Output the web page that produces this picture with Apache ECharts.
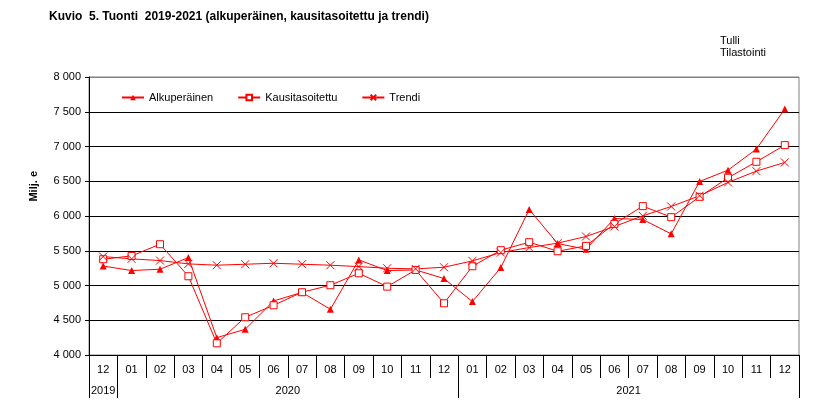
<!DOCTYPE html>
<html>
<head>
<meta charset="utf-8">
<script src="https://cdn.jsdelivr.net/npm/echarts@6/dist/echarts.min.js"></script>
<style>
html,body{margin:0;padding:0;background:#fff;}
#c{width:832px;height:416px;}
</style>
</head>
<body>
<div id="c"></div>
<script>
// ---- data ----
var months = ['12','01','02','03','04','05','06','07','08','09','10','11','12','01','02','03','04','05','06','07','08','09','10','11','12'];
var years  = ['2019','2020','2020','2020','2020','2020','2020','2020','2020','2020','2020','2020','2020','2021','2021','2021','2021','2021','2021','2021','2021','2021','2021','2021','2021'];
var alkuperainen = [5280, 5215, 5234, 5402, 4250, 4370, 4778, 4900, 4658, 5368, 5215, 5224, 5100, 4768, 5258, 6094, 5604, 5522, 5964, 5950, 5743, 6497, 6660, 6963, 7539];
var kausitasoitettu = [5378, 5426, 5594, 5133, 4168, 4543, 4715, 4903, 5004, 5176, 4984, 5224, 4744, 5277, 5508, 5623, 5493, 5570, 5887, 6142, 5983, 6276, 6550, 6780, 7020];
var trendi = [5416, 5383, 5359, 5311, 5292, 5306, 5320, 5306, 5292, 5272, 5248, 5239, 5263, 5354, 5474, 5546, 5609, 5705, 5849, 6002, 6137, 6291, 6483, 6646, 6771];
var seriesNames = ['Alkuperäinen', 'Kausitasoitettu', 'Trendi'];
var titleText = 'Kuvio  5. Tuonti  2019-2021 (alkuperäinen, kausitasoitettu ja trendi)';
var sourceText = 'Tulli\nTilastointi';
var yName = 'Milj. e';

// ---- build year axis (half-month slots) ----
var halfCats = [];
for (var i = 0; i <= months.length * 2; i++) halfCats.push('');
var tickSet = {}, labelSet = {};
var s = 0;
for (var i = 1; i <= years.length; i++) {
  if (i === years.length || years[i] !== years[s]) {
    tickSet[2 * s] = true; tickSet[2 * i] = true;
    halfCats[s + i] = years[s];
    labelSet[s + i] = true;
    s = i;
  }
}

var FONT = '"Liberation Sans", Arial, sans-serif';
var RED = '#ff0000';
var splitColors = ['#000','#000','#000','#000','#000','#000','#000','#000','#808080'];

var chart = echarts.init(document.getElementById('c'), null, {renderer: 'canvas'});
chart.setOption({
  animation: false,
  backgroundColor: '#fff',
  textStyle: {fontFamily: FONT},
  title: [
    {text: titleText, left: 49, top: 11, padding: 0, textStyle: {fontFamily: FONT, fontSize: 12, fontWeight: 'bold', color: '#000'}},
    {text: sourceText, left: 720, top: 35, padding: 0, textStyle: {fontFamily: FONT, fontSize: 11, fontWeight: 'normal', color: '#000', lineHeight: 12}}
  ],
  graphic: [{
    type: 'text', left: 28, top: 171, rotation: Math.PI / 2,
    style: {text: yName, font: 'bold 11px ' + FONT, fill: '#000'}
  }],
  legend: {
    left: 121, top: 92, padding: 0, itemWidth: 22, itemHeight: 7, itemGap: 24,
    textStyle: {fontFamily: FONT, fontSize: 11, color: '#000'},
    data: seriesNames
  },
  grid: {left: 89, right: 33, top: 77, bottom: 61, show: true, borderColor: '#808080', borderWidth: 1, backgroundColor: 'transparent'},
  xAxis: [{
    type: 'category', data: months, boundaryGap: true,
    axisLine: {lineStyle: {color: '#000', width: 1}},
    axisTick: {show: true, interval: 0, length: 23, lineStyle: {color: '#000'}},
    axisLabel: {interval: 0, margin: 9, fontSize: 11, color: '#000', fontFamily: FONT},
    splitLine: {show: false}
  }, {
    type: 'category', data: halfCats, boundaryGap: false, position: 'bottom', offset: 23,
    axisLine: {show: false},
    axisTick: {show: true, length: 20, lineStyle: {color: '#000'}, interval: function (idx) { return !!tickSet[idx]; }},
    axisLabel: {margin: 7, fontSize: 11, color: '#000', fontFamily: FONT, interval: function (idx) { return !!labelSet[idx]; }},
    splitLine: {show: false}
  }],
  yAxis: {
    type: 'value', min: 4000, max: 8000, interval: 500,
    axisLine: {show: true, lineStyle: {color: '#000'}},
    axisTick: {show: true, length: 4, lineStyle: {color: '#000'}},
    axisLabel: {margin: 8, fontSize: 11, color: '#000', fontFamily: FONT,
      formatter: function (v) { var t = String(v); return t.slice(0, -3) + ' ' + t.slice(-3); }},
    splitLine: {show: true, lineStyle: {color: splitColors, width: 1}}
  },
  series: [{
    name: seriesNames[0], type: 'line', data: alkuperainen, xAxisIndex: 0,
    symbol: 'triangle', symbolSize: 7, showAllSymbol: true,
    lineStyle: {color: RED, width: 1}, itemStyle: {color: RED, borderWidth: 0}
  }, {
    name: seriesNames[1], type: 'line', data: kausitasoitettu, xAxisIndex: 0,
    symbol: 'rect', symbolSize: 7, showAllSymbol: true,
    lineStyle: {color: RED, width: 1}, itemStyle: {color: '#fff', borderColor: RED, borderWidth: 1}
  }, {
    name: seriesNames[2], type: 'line', data: trendi, xAxisIndex: 0,
    symbol: 'path://M0,0L10,10M10,0L0,10', symbolSize: 8, showAllSymbol: true,
    lineStyle: {color: RED, width: 1}, itemStyle: {color: RED, borderColor: RED, borderWidth: 1}
  }]
});
</script>
</body>
</html>
